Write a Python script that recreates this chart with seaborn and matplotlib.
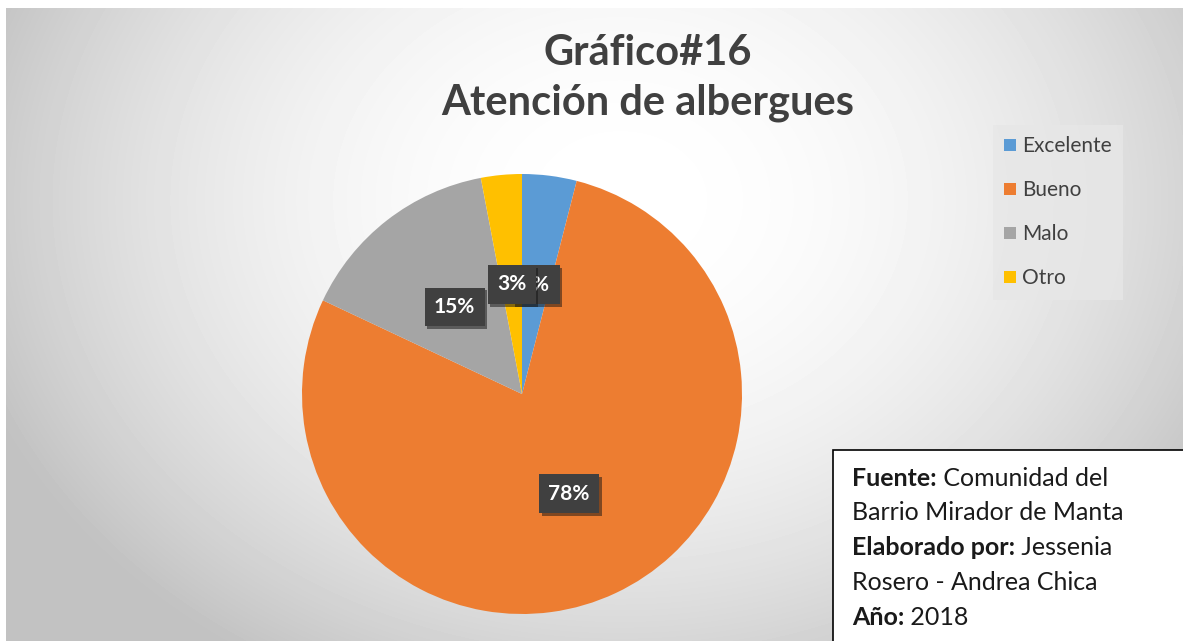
import matplotlib
matplotlib.use("Agg")
import matplotlib.pyplot as plt
import matplotlib.patheffects as pe
from matplotlib.patches import Patch, Rectangle
import numpy as np
import seaborn as sns

# Datos del grafico
categorias = ["Excelente", "Bueno", "Malo", "Otro"]
porcentajes = [4, 78, 15, 3]
colores = ["#5B9BD5", "#ED7D31", "#A5A5A5", "#FFC000"]

titulo = "Gráfico#16\nAtención de albergues"
fuente = [("Fuente:", " Comunidad del"),
          ("", "Barrio Mirador de Manta"),
          ("Elaborado por:", " Jessenia"),
          ("", "Rosero - Andrea Chica"),
          ("Año:", " 2018")]

sns.set_theme(style="white")
plt.rcParams['font.family'] = ['Lato', 'DejaVu Sans']

W, H = 1183, 641
fig = plt.figure(figsize=(W / 100, H / 100), dpi=100, facecolor='white')

# fondo con degradado radial
bg = fig.add_axes([6 / W, 0, 1 - 6 / W, (H - 8) / H])
yy, xx = np.mgrid[0:H - 8, 6:W]
r2 = ((xx - 620) / 650.0) ** 2 + ((yy - 192) / 520.0) ** 2
val = np.clip(1 - 0.22 * r2, 0.76, 1.0)
bg.imshow(val, cmap='gray', vmin=0, vmax=1, aspect='auto', interpolation='bilinear')
bg.set_axis_off()

# pastel
cx, cy, rad = 522, 394, 220
ax = fig.add_axes([(cx - rad) / W, (H - cy - rad) / H, 2 * rad / W, 2 * rad / H])
wedges, texts, autotexts = ax.pie(porcentajes, colors=sns.color_palette(colores),
                                  startangle=90, counterclock=False,
                                  autopct='%1.0f%%', pctdistance=0.5,
                                  wedgeprops={'linewidth': 0, 'edgecolor': 'none'},
                                  textprops={'color': 'white', 'fontsize': 15,
                                             'fontweight': 'bold'})
ax.set_xlim(-1, 1)
ax.set_ylim(-1, 1)
ax.set_aspect('equal')
ax.set_axis_off()
for i, t in enumerate(autotexts):
    t.set_bbox(dict(boxstyle='square,pad=0.45', facecolor='#404040', edgecolor='none'))
    t.get_bbox_patch().set_path_effects([pe.SimplePatchShadow(offset=(2, -2), alpha=0.5),
                                         pe.Normal()])
    t.set_zorder(5 + (2 if i == 3 else 0))

# titulo
fig.text(648 / W, 1 - 78 / H, titulo, ha='center', va='center', fontsize=30,
         fontweight='bold', color='#404040', linespacing=1.4)

# leyenda
handles = [Patch(facecolor=c, edgecolor='none', label=l)
           for c, l in zip(colores, categorias)]
leg = fig.legend(handles=handles, loc='upper left', bbox_to_anchor=(993 / W, 1 - 125 / H),
                 fontsize=15, frameon=True, fancybox=False, labelspacing=1.15,
                 handlelength=0.55, handleheight=0.55, handletextpad=0.3,
                 borderpad=0.55, borderaxespad=0)
leg.get_frame().set_facecolor('#e7e7e7')
leg.get_frame().set_edgecolor('none')
for t in leg.get_texts():
    t.set_color('#404040')

# cuadro de fuente
fig.patches.append(Rectangle((833 / W, -0.01), 0.4, (H - 450) / H + 0.01,
                             transform=fig.transFigure, facecolor='white',
                             edgecolor='black', linewidth=1.2, zorder=3))
fig.canvas.draw()
renderer = fig.canvas.get_renderer()
for k, (neg, reg) in enumerate(fuente):
    y = 1 - (478 + k * 34.8) / H
    x = 852 / W
    if neg:
        tb = fig.text(x, y, neg, ha='left', va='center', fontsize=18,
                      fontweight='bold', color='#1a1a1a', zorder=4)
        x = fig.transFigure.inverted().transform(
            (tb.get_window_extent(renderer).x1, 0))[0]
    fig.text(x, y, reg, ha='left', va='center', fontsize=18,
             color='#1a1a1a', zorder=4)

plt.savefig("out.png", dpi=100, facecolor='white')
